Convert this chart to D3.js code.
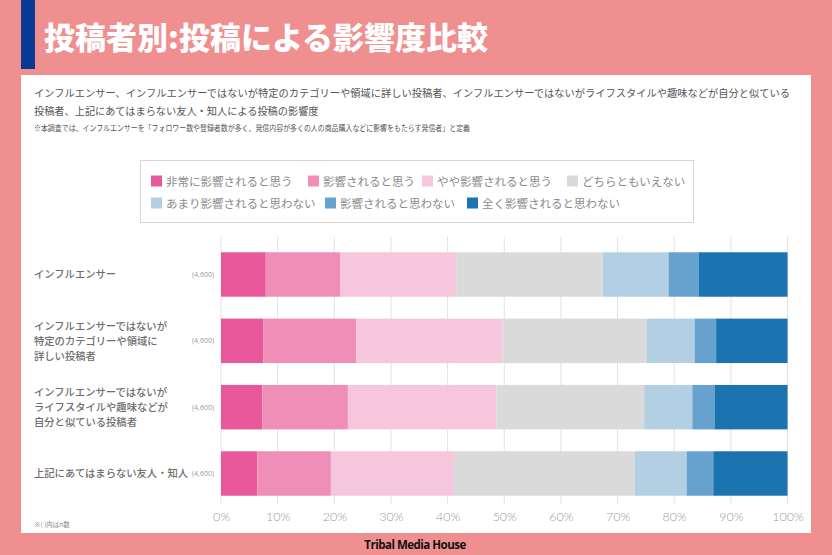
<!DOCTYPE html>
<html>
<head>
<meta charset="utf-8">
<script src="https://cdn.jsdelivr.net/npm/d3@7"></script>
<style>
  html, body { margin: 0; padding: 0; background: #f08f8f; }
  svg { display: block; font-family: "Noto Sans CJK JP", "Noto Sans", sans-serif; }
</style>
</head>
<body>
<svg id="chart" width="832" height="555"></svg>
<script>
// ─── Datos ────────────────────────────────────────────────────────────────
const categories = [
  ['インフルエンサー'],
  ['インフルエンサーではないが', '特定のカテゴリーや領域に', '詳しい投稿者'],
  ['インフルエンサーではないが', 'ライフスタイルや趣味などが', '自分と似ている投稿者'],
  ['上記にあてはまらない友人・知人'],
];
const sampleSizes = ['(4,600)', '(4,600)', '(4,600)', '(4,600)'];
const seriesNames = [
  '非常に影響されると思う', '影響されると思う', 'やや影響されると思う', 'どちらともいえない',
  'あまり影響されると思わない', '影響されると思わない', '全く影響されると思わない',
];
// porcentajes por fila (suman 100)
const values = [
  [7.9, 13.2, 20.4, 25.9, 11.6, 5.3, 15.7],
  [7.5, 16.4, 25.8, 25.5, 8.4, 3.8, 12.6],
  [7.3, 15.1, 26.2, 26.1, 8.5, 4.0, 12.8],
  [6.4, 13.0, 21.7, 31.9, 9.2, 4.7, 13.1],
];
const ticks = [0, 10, 20, 30, 40, 50, 60, 70, 80, 90, 100];
const colors = ['#e8589a', '#ef8fb8', '#f6c6dc', '#dadada', '#b2cfe4', '#66a2cd', '#1b73b0'];

const svg = d3.select('#chart');

// ─── Cabecera ─────────────────────────────────────────────────────────────
svg.append('rect').attr('x', 0).attr('y', 0).attr('width', 832).attr('height', 555).attr('fill', '#f08f8f');
svg.append('rect').attr('x', 21).attr('y', 0).attr('width', 14).attr('height', 69).attr('fill', '#073a93');
svg.append('text')
  .attr('x', 44).attr('y', 49)
  .attr('fill', '#fff').attr('font-size', 31).attr('font-weight', 900)
  .text('投稿者別:投稿による影響度比較');

// panel blanco
svg.append('rect').attr('x', 21).attr('y', 75).attr('width', 790).attr('height', 458).attr('fill', '#fff');

const desc = svg.append('g').attr('fill', '#555');
desc.append('text').attr('x', 34).attr('y', 97).attr('font-size', 10.2)
  .attr('textLength', 756).attr('lengthAdjust', 'spacingAndGlyphs')
  .text('インフルエンサー、インフルエンサーではないが特定のカテゴリーや領域に詳しい投稿者、インフルエンサーではないがライフスタイルや趣味などが自分と似ている');
desc.append('text').attr('x', 34).attr('y', 115).attr('font-size', 10.2)
  .text('投稿者、上記にあてはまらない友人・知人による投稿の影響度');
desc.append('text').attr('x', 34).attr('y', 131).attr('font-size', 8.2)
  .attr('textLength', 436).attr('lengthAdjust', 'spacingAndGlyphs')
  .text('※本調査では、インフルエンサーを「フォロワー数や登録者数が多く、発信内容が多くの人の商品購入などに影響をもたらす発信者」と定義');

// ─── Leyenda ──────────────────────────────────────────────────────────────
svg.append('rect').attr('x', 140.5).attr('y', 160.5).attr('width', 553).attr('height', 62)
  .attr('fill', '#fff').attr('stroke', '#d6d6d6');
const legendPos = [[151, 181], [308, 181], [422, 181], [567, 181], [151, 203], [325, 203], [467, 203]];
const leg = svg.append('g').selectAll('g').data(seriesNames).join('g')
  .attr('transform', (d, i) => `translate(${legendPos[i][0]},${legendPos[i][1]})`);
leg.append('rect').attr('x', 0).attr('y', -5.5).attr('width', 11).attr('height', 11)
  .attr('fill', (d, i) => colors[i]);
leg.append('text').attr('x', 15).attr('y', 4.5).attr('font-size', 11.5).attr('fill', '#8a8a8a')
  .text(d => d);

// ─── Gráfico ──────────────────────────────────────────────────────────────
const x = d3.scaleLinear().domain([0, 100]).range([221, 787.5]);
const y = d3.scaleBand().domain(d3.range(categories.length)).range([241, 507]).paddingInner(0.33).paddingOuter(0.17);

svg.append('g').selectAll('line').data(ticks).join('line')
  .attr('x1', d => x(d)).attr('x2', d => x(d))
  .attr('y1', 237).attr('y2', 504)
  .attr('stroke', '#e2e2e2').attr('stroke-width', 1);

const axis = svg.append('g').attr('transform', 'translate(0,504)')
  .call(d3.axisBottom(x).tickValues(ticks).tickFormat(d => d + '%').tickSize(0).tickPadding(8));
axis.select('.domain').remove();
axis.selectAll('text').attr('font-size', 12.5).attr('fill', '#9a9a9a')
  .attr('font-family', 'Lato, "Open Sans", sans-serif').attr('font-weight', 300);

const stacked = values.map(row => {
  let acc = 0;
  return row.map((v, i) => { const s = { x0: acc, x1: acc + v, i }; acc += v; return s; });
});

svg.append('g').selectAll('g').data(stacked).join('g')
  .attr('transform', (d, r) => `translate(0,${y(r)})`)
  .selectAll('rect').data(d => d).join('rect')
  .attr('x', d => x(d.x0)).attr('width', d => x(d.x1) - x(d.x0))
  .attr('y', 0).attr('height', y.bandwidth())
  .attr('fill', d => colors[d.i]);

// etiquetas de categoría
const labels = svg.append('g').selectAll('g').data(categories).join('g')
  .attr('transform', (d, r) => `translate(0,${y(r) + y.bandwidth() / 2})`);
labels.append('text').attr('x', 34).attr('font-size', 10.3).attr('font-weight', 500).attr('fill', '#6e6e6e')
  .selectAll('tspan').data(d => d).join('tspan')
  .attr('x', 34)
  .attr('y', (t, j, nodes) => (j - (nodes.length - 1) / 2) * 15 + 3.8)
  .text(t => t);
labels.append('text').attr('x', 214).attr('y', 2.5).attr('text-anchor', 'end')
  .attr('font-size', 7).attr('fill', '#999')
  .attr('font-family', '"Open Sans", sans-serif')
  .text((d, r) => sampleSizes[r]);

svg.append('text').attr('x', 34).attr('y', 527).attr('font-size', 6.5).attr('fill', '#888')
  .text('※( )内はn数');

// pie
svg.append('text').attr('x', 415).attr('y', 549).attr('text-anchor', 'middle')
  .attr('font-size', 11.5).attr('font-weight', 700).attr('fill', '#111')
  .attr('font-family', '"Open Sans", "DejaVu Sans", sans-serif').attr('letter-spacing', -0.5)
  .text('Tribal Media House');
</script>
</body>
</html>
